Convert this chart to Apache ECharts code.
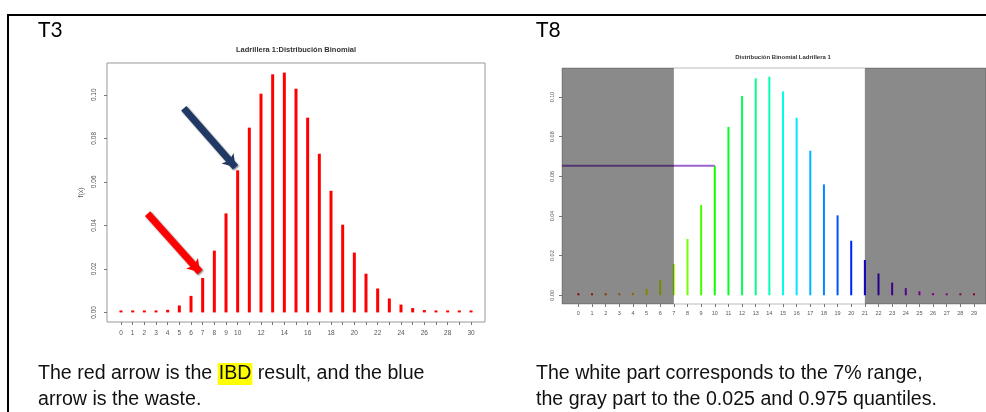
<!DOCTYPE html>
<html>
<head>
<meta charset="utf-8">
<script src="https://cdn.jsdelivr.net/npm/echarts@6/dist/echarts.min.js"></script>
<style>
html,body{margin:0;padding:0;background:#fff;}
#c{width:986px;height:412px;}
</style>
</head>
<body>
<div id="c"></div>
<script>
// ---- data ----
const xs = [0,1,2,3,4,5,6,7,8,9,10,11,12,13,14,15,16,17,18,19,20,21,22,23,24,25,26,27,28,29,30];
const probs = [0.0000,0.0000,0.0001,0.0004,0.0012,0.0032,0.0076,0.0158,0.0284,0.0455,
               0.0653,0.0849,0.1005,0.1094,0.1102,0.1028,0.0895,0.0729,0.0559,0.0403,
               0.0275,0.0178,0.0110,0.0064,0.0036,0.0020,0.0011,0.0005,0.0002,0.0001,0.0000];
const yTicks = [0,0.02,0.04,0.06,0.08,0.10];
const leftXLabels = [0,1,2,3,4,5,6,7,8,9,10,12,14,16,18,20,22,24,26,28,30];
const rainbow = ['#FF0000','#FF3100','#FF6300','#FF9400','#FFC600','#FFF700','#D6FF00','#A5FF00',
                 '#73FF00','#42FF00','#10FF00','#00FF21','#00FF52','#00FF84','#00FFB5','#00FFE6',
                 '#00E6FF','#00B5FF','#0084FF','#0052FF','#0021FF','#1000FF','#4200FF','#7300FF',
                 '#A500FF','#D600FF','#FF00F7','#FF00C6','#FF0094','#FF0063','#FF0031'];
const lowerQ = 7, upperQ = 21;       // 0.025 and 0.975 quantiles
const refIndex = 10;                 // bar marked by the horizontal line / blue arrow
// arrows in data units: [tailX, tailY, tipX, tipY]
const redArrow = [2.28, 0.0454, 6.77, 0.0185];
const blueArrow = [5.38, 0.0938, 9.81, 0.0667];

const X_MIN = -1.2, X_MAX = 31.2, X_MAX_RIGHT = 29.88, Y_MIN = -0.0044, Y_MAX = 0.1146;

const chart = echarts.init(document.getElementById('c'), null, {renderer:'canvas'});
const tickFont = 'Liberation Sans';

function xAxisCfg(gi, max, labels, fs, margin){
  return {
    type:'value', gridIndex:gi, min:X_MIN, max:max,
    axisLine:{show:false, onZero:false}, splitLine:{show:false},
    axisTick:{show:true, inside:false, length:3, lineStyle:{color:'#777', width:1}, customValues:xs.filter(v=>v<=max)},
    axisLabel:{show:true, customValues:labels.filter(v=>v<=max), fontSize:fs, color:'#555', fontFamily:tickFont, margin:margin}
  };
}
function yAxisCfg(gi, fs, margin, name){
  return {
    type:'value', gridIndex:gi, min:Y_MIN, max:Y_MAX,
    name:name, nameLocation:'middle', nameRotate:90, nameGap:22,
    nameTextStyle:{fontSize:7, color:'#555', fontFamily:tickFont},
    axisLine:{show:false, onZero:false}, splitLine:{show:false},
    axisTick:{show:true, inside:false, length:3, lineStyle:{color:'#777', width:1}, customValues:yTicks},
    axisLabel:{show:true, customValues:yTicks, rotate:90, fontSize:fs, color:'#555', fontFamily:tickFont, margin:margin,
               formatter:v=>v.toFixed(2)}
  };
}
function arrowData(a, color){
  return [{coord:[a[0],a[1]], lineStyle:{color:color}, itemStyle:{color:color}},
          {coord:[a[2],a[3]], lineStyle:{color:color}, itemStyle:{color:color}}];
}

const option = {
  animation:false,
  grid:[
    {left:107, top:63, width:378, height:259, show:true, borderColor:'#999', borderWidth:1, backgroundColor:'transparent'},
    {left:562, top:68, width:424, height:236, show:true, borderColor:'#bbb', borderWidth:1, backgroundColor:'transparent'}
  ],
  xAxis:[ xAxisCfg(0, X_MAX, leftXLabels, 6.5, 8), xAxisCfg(1, X_MAX_RIGHT, xs, 5.5, 6) ],
  yAxis:[ yAxisCfg(0, 6.5, 9, 'f(x)'), yAxisCfg(1, 5.5, 7, '') ],
  series:[
    {
      type:'bar', xAxisIndex:0, yAxisIndex:0, barWidth:3, barMinHeight:2,
      itemStyle:{color:'#ff0000'},
      data: xs.map((x,i)=>[x, probs[i]]),
      z:2,
      markLine:{
        silent:true, symbol:['none','arrow'], symbolSize:12, z:6,
        label:{show:false},
        data:[ arrowData(redArrow, '#ff0000'), arrowData(blueArrow, '#1f3864') ],
        lineStyle:{width:7, type:'solid', shadowColor:'rgba(0,0,0,0.55)', shadowBlur:2, shadowOffsetX:1, shadowOffsetY:1}
      }
    },
    {
      type:'bar', xAxisIndex:1, yAxisIndex:1, barWidth:2, barMinHeight:2, z:2,
      data: xs.map((x,i)=>({value:[x, probs[i]], itemStyle:{color:rainbow[i]}}))
    },
    {
      type:'line', xAxisIndex:1, yAxisIndex:1, z:3, symbol:'none', silent:true,
      lineStyle:{color:'#9b62d0', width:2.2},
      data:[[X_MIN, probs[refIndex]], [xs[refIndex], probs[refIndex]]]
    },
    {
      type:'custom', xAxisIndex:1, yAxisIndex:1, z:10, silent:true,
      encode:{x:[0,2], y:[1,3]},
      data:[[X_MIN, Y_MIN, lowerQ, Y_MAX],[upperQ, Y_MIN, X_MAX_RIGHT, Y_MAX]],
      renderItem:function(params, api){
        const p0 = api.coord([api.value(0), api.value(3)]);
        const p1 = api.coord([api.value(2), api.value(1)]);
        return {type:'rect', shape:{x:p0[0], y:p0[1], width:p1[0]-p0[0], height:p1[1]-p0[1]},
                style:{fill:'rgba(0,0,0,0.46)'}};
      }
    }
  ],
  graphic:[
    {type:'line', shape:{x1:7, y1:15, x2:986, y2:15}, style:{stroke:'#000', lineWidth:2}},
    {type:'line', shape:{x1:8, y1:14, x2:8, y2:412}, style:{stroke:'#000', lineWidth:2}},
    {type:'text', x:38, y:30.5, style:{text:'T3', font:'21px Lato', fill:'#000', align:'left', verticalAlign:'middle'}},
    {type:'text', x:536, y:30.5, style:{text:'T8', font:'21px Lato', fill:'#000', align:'left', verticalAlign:'middle'}},
    {type:'text', x:296, y:50, style:{text:'Ladrillera 1:Distribución Binomial', font:'bold 7.5px "Liberation Sans"', fill:'#333', align:'center', verticalAlign:'middle'}},
    {type:'text', x:783, y:57, style:{text:'Distribución Binomial Ladrillera 1', font:'bold 6px "Liberation Sans"', fill:'#333', align:'center', verticalAlign:'middle'}},
    {type:'text', x:38, y:361, style:{
      text:'The red arrow is the {hl|IBD} result, and the blue\narrow is the waste.',
      font:'19.6px "Liberation Sans"', fill:'#111', align:'left', verticalAlign:'top', lineHeight:26,
      rich:{hl:{backgroundColor:'#ffff00', font:'19.6px "Liberation Sans"', fill:'#111', lineHeight:26, padding:[1,1,1,1]}}
    }},
    {type:'text', x:536, y:361, style:{
      text:'The white part corresponds to the 7% range,\nthe gray part to the 0.025 and 0.975 quantiles.',
      font:'19.6px "Liberation Sans"', fill:'#111', align:'left', verticalAlign:'top', lineHeight:26
    }}
  ]
};
chart.setOption(option);
</script>
</body>
</html>
